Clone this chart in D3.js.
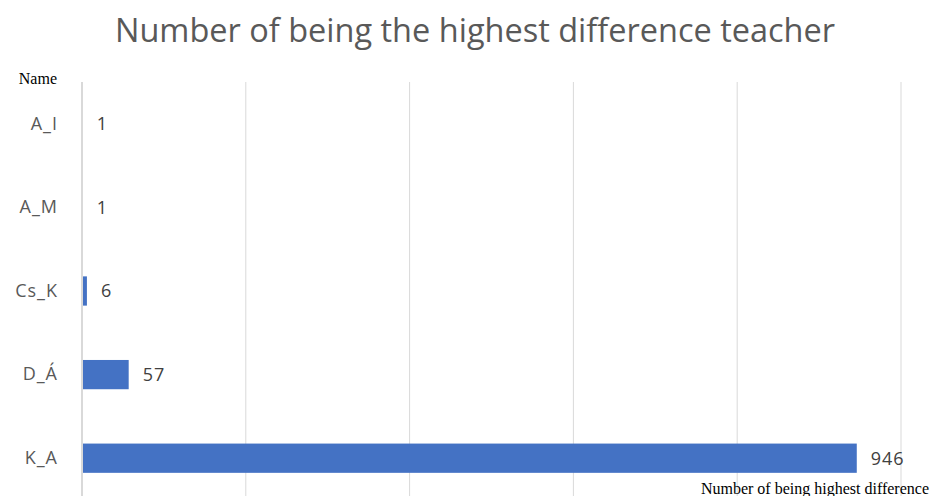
<!DOCTYPE html>
<html>
<head>
<meta charset="utf-8">
<script src="https://cdn.jsdelivr.net/npm/d3@7"></script>
<style>
  body { margin: 0; background: #fff; }
  svg { display: block; }
</style>
</head>
<body>
<svg width="930" height="496"></svg>
<script>
var names = ["A_I", "A_M", "Cs_K", "D_Á", "K_A"];
var counts = [1, 1, 6, 57, 946];
var xTicks = [200, 400, 600, 800, 1000];

var svg = d3.select("svg"),
    width = +svg.attr("width"),
    height = +svg.attr("height");

var x = d3.scaleLinear().domain([0, 1000]).range([82, 901]);
var y = d3.scaleBand().domain(names).range([82, 500]).paddingInner(0.65).paddingOuter(0.325);

// title
svg.append("text")
    .attr("x", 475).attr("y", 42)
    .attr("text-anchor", "middle")
    .attr("font-family", "Open Sans, sans-serif")
    .attr("font-size", 32.5)
    .attr("fill", "#595959")
    .text("Number of being the highest difference teacher");

// gridlines
svg.append("g")
    .selectAll("line")
    .data(xTicks)
    .enter().append("line")
      .attr("x1", function(d) { return x(d); })
      .attr("x2", function(d) { return x(d); })
      .attr("y1", 82)
      .attr("y2", height)
      .attr("stroke", "#d9d9d9");

// bars
svg.append("g")
    .selectAll("rect")
    .data(names)
    .enter().append("rect")
      .attr("x", x(0))
      .attr("y", function(d) { return y(d); })
      .attr("width", function(d, i) { return x(counts[i]) - x(0); })
      .attr("height", y.bandwidth())
      .attr("fill", "#4472c4");

// zero line on top (hides the 1-wide bars, like the original)
svg.append("line")
    .attr("x1", x(0)).attr("x2", x(0))
    .attr("y1", 82).attr("y2", height)
    .attr("stroke", "#d9d9d9")
    .attr("stroke-width", 2);

// value labels
svg.append("g")
    .selectAll("text")
    .data(names)
    .enter().append("text")
      .attr("x", function(d, i) { return x(counts[i]) + 14; })
      .attr("y", function(d) { return y(d) + y.bandwidth() / 2; })
      .attr("dy", "0.35em")
      .attr("font-family", "Open Sans, sans-serif")
      .attr("font-size", 18)
      .attr("letter-spacing", 1)
      .attr("fill", "#404040")
      .text(function(d, i) { return counts[i]; });

// category axis
var yAxis = svg.append("g")
    .attr("transform", "translate(58,0)")
    .call(d3.axisLeft(y).tickSize(0).tickPadding(0));
yAxis.select(".domain").remove();
yAxis.selectAll("text")
    .attr("font-family", "Open Sans, sans-serif")
    .attr("font-size", 18)
    .attr("letter-spacing", 1)
    .attr("fill", "#595959");

// axis names
svg.append("text")
    .attr("x", 57).attr("y", 84)
    .attr("text-anchor", "end")
    .attr("font-family", "Liberation Serif, serif")
    .attr("font-size", 16)
    .attr("fill", "#000")
    .text("Name");

svg.append("text")
    .attr("x", 929).attr("y", 494)
    .attr("text-anchor", "end")
    .attr("font-family", "Liberation Serif, serif")
    .attr("font-size", 16)
    .attr("fill", "#000")
    .text("Number of being highest difference");
</script>
</body>
</html>
